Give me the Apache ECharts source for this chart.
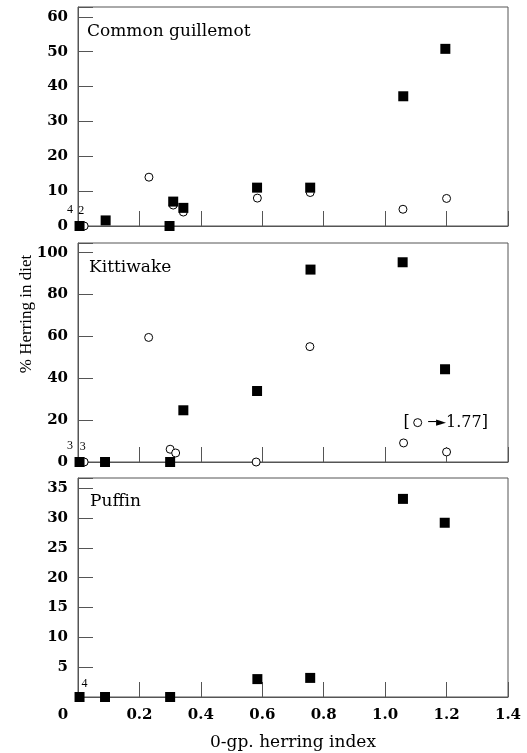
<!DOCTYPE html>
<html><head><meta charset="utf-8">
<script src="https://cdn.jsdelivr.net/npm/echarts@6/dist/echarts.min.js"></script>
<style>html,body{margin:0;padding:0;background:#fff}#c{width:527px;height:753px}</style>
</head><body><div id="c"></div>
<script>
// ---- data ----
const panelTitles = ['Common guillemot', 'Kittiwake', 'Puffin'];
const xAxisTitle = '0-gp. herring index';
const yAxisTitle = '% Herring in diet';
const xMin = 0, xMax = 1.4, xStep = 0.2;
const yMaxes = [62.8, 104.6, 36.7];
const ySteps = [10, 20, 5];

// Common guillemot
const guilSquareX = [0.005, 0.09, 0.298, 0.31, 0.343, 0.583, 0.756, 1.059, 1.196];
const guilSquareY = [0, 1.6, 0, 7, 5.2, 11, 11, 37.2, 50.8];
const guilCircleX = [0.02, 0.231, 0.31, 0.343, 0.584, 0.756, 1.058, 1.2];
const guilCircleY = [0, 14, 6, 4, 8, 9.6, 4.8, 7.9];
// Kittiwake
const kitSquareX = [0.005, 0.088, 0.3, 0.343, 0.583, 0.757, 1.057, 1.195];
const kitSquareY = [0, 0, 0, 24.7, 33.9, 91.9, 95.4, 44.3];
const kitCircleX = [0.02, 0.23, 0.3, 0.318, 0.58, 0.755, 1.06, 1.2];
const kitCircleY = [0, 59.5, 6.1, 4.3, 0, 55.1, 9.1, 4.8];
const kitOffScaleX = [1.106];
const kitOffScaleY = [18.8];
const kitOffScaleNote = '1.77]';
// Puffin
const pufSquareX = [0.005, 0.088, 0.3, 0.584, 0.756, 1.058, 1.194];
const pufSquareY = [0, 0, 0, 3, 3.2, 33.2, 29.2];

// sample-size notes: [panel, 'square'|'circle', point index, text]
const sampleNotes = [
  [0, 'square', 0, '4'], [0, 'circle', 0, '2'],
  [1, 'square', 0, '3'], [1, 'circle', 0, '3'],
  [2, 'square', 0, '4']
];

// ---- build ----
const AX = '#555';
const FONT = 'DejaVu Serif';
const noteOffsets = { '0square': [-9.5, 0], '0circle': [-3, 0], '1square': [-9.5, 0], '1circle': [-1.5, 0], '2square': [5, 3] };

function pts(xs, ys, panel, kind) {
  return xs.map((x, i) => {
    const d = { value: [x, ys[i]] };
    const n = sampleNotes.find(s => s[0] === panel && s[1] === kind && s[2] === i);
    if (n) {
      d.label = { show: true, position: 'top', formatter: n[3], offset: noteOffsets[panel + kind],
        fontFamily: 'Liberation Serif', fontSize: 12, color: '#000' };
    }
    return d;
  });
}

const grids = [
  { left: 78, width: 430, top: 7, height: 219 },
  { left: 78, width: 430, top: 243, height: 219 },
  { left: 78, width: 430, top: 478, height: 219 }
].map(g => Object.assign(g, { show: true, borderColor: AX, borderWidth: 1, backgroundColor: 'transparent' }));

const xAxes = [0, 1, 2].map(i => ({
  type: 'value', gridIndex: i, min: xMin, max: xMax, interval: xStep,
  axisLine: { show: true, lineStyle: { color: AX } },
  axisTick: { show: true, inside: true, length: 15, lineStyle: { color: AX } },
  splitLine: { show: false },
  axisLabel: i < 2 ? { show: false } : {
    show: true, margin: 11, color: '#000', fontFamily: FONT, fontWeight: 'bold', fontSize: 15,
    formatter: v => Math.abs(v) < 1e-9 ? '{z|0}' : v.toFixed(1),
    rich: { z: { fontFamily: FONT, fontWeight: 'bold', fontSize: 15, color: '#000', padding: [0, 30, 0, 0] } }
  },
  name: i === 2 ? xAxisTitle : '', nameLocation: 'middle', nameGap: 37,
  nameTextStyle: { fontFamily: FONT, fontSize: 17, color: '#000' }
}));

const yAxes = [0, 1, 2].map(i => ({
  type: 'value', gridIndex: i, min: 0, max: yMaxes[i], interval: ySteps[i],
  axisLine: { show: true, lineStyle: { color: AX } },
  axisTick: { show: true, inside: true, length: 15, lineStyle: { color: AX } },
  splitLine: { show: false },
  axisLabel: {
    show: true, margin: 10, color: '#000', fontFamily: FONT, fontWeight: 'bold', fontSize: 15,
    formatter: v => {
      const r = Math.round(v);
      if (Math.abs(v - r) > 1e-6 || r % ySteps[i] !== 0) return '';
      if (i === 2 && r === 0) return '';
      return String(r);
    }
  }
}));

const squareStyle = { symbol: 'rect', symbolSize: 10, itemStyle: { color: '#000', opacity: 1 }, z: 3 };
const circleStyle = { symbol: 'circle', symbolSize: 8, itemStyle: { color: '#fff', borderColor: '#000', borderWidth: 1, opacity: 1 }, z: 2 };

const series = [
  Object.assign({ type: 'scatter', name: 'Guillemot (open)', xAxisIndex: 0, yAxisIndex: 0, data: pts(guilCircleX, guilCircleY, 0, 'circle') }, circleStyle),
  Object.assign({ type: 'scatter', name: 'Guillemot (filled)', xAxisIndex: 0, yAxisIndex: 0, data: pts(guilSquareX, guilSquareY, 0, 'square') }, squareStyle),
  Object.assign({ type: 'scatter', name: 'Kittiwake (open)', xAxisIndex: 1, yAxisIndex: 1, data: pts(kitCircleX, kitCircleY, 1, 'circle') }, circleStyle),
  Object.assign({ type: 'scatter', name: 'Kittiwake (filled)', xAxisIndex: 1, yAxisIndex: 1, data: pts(kitSquareX, kitSquareY, 1, 'square') }, squareStyle),
  Object.assign({ type: 'scatter', name: 'Kittiwake off-scale', xAxisIndex: 1, yAxisIndex: 1,
    data: [
      { value: [kitOffScaleX[0], kitOffScaleY[0]], label: { show: true, position: 'right', distance: 6,
        formatter: '{a|\u2500\u25BA}{b|' + kitOffScaleNote + '}',
        rich: { a: { fontFamily: 'DejaVu Sans', fontSize: 13, color: '#000' }, b: { fontFamily: FONT, fontSize: 16, color: '#000' } } } },
      { value: [kitOffScaleX[0], kitOffScaleY[0]], symbolSize: 0, label: { show: true, position: 'left', distance: 8,
        formatter: '[', fontFamily: FONT, fontSize: 16, color: '#000' } }
    ] }, circleStyle),
  Object.assign({ type: 'scatter', name: 'Puffin (filled)', xAxisIndex: 2, yAxisIndex: 2, data: pts(pufSquareX, pufSquareY, 2, 'square') }, squareStyle)
];

const titleTops = [23, 259, 493];
const titleLefts = [87, 89, 90];
const option = {
  animation: false,
  backgroundColor: '#fff',
  title: panelTitles.map((t, i) => ({ text: t, left: titleLefts[i], top: titleTops[i], padding: 0,
    textStyle: { fontFamily: FONT, fontWeight: 'normal', fontSize: 17, color: '#000' } })),
  grid: grids, xAxis: xAxes, yAxis: yAxes, series: series,
  graphic: [{ type: 'text', x: 27, y: 314, rotation: Math.PI / 2,
    style: { text: yAxisTitle, fontFamily: 'Liberation Serif', fontSize: 17, fill: '#000', textAlign: 'center', textVerticalAlign: 'middle' } }]
};
const chart = echarts.init(document.getElementById('c'), null, { renderer: 'canvas' });
chart.setOption(option);
</script></body></html>
